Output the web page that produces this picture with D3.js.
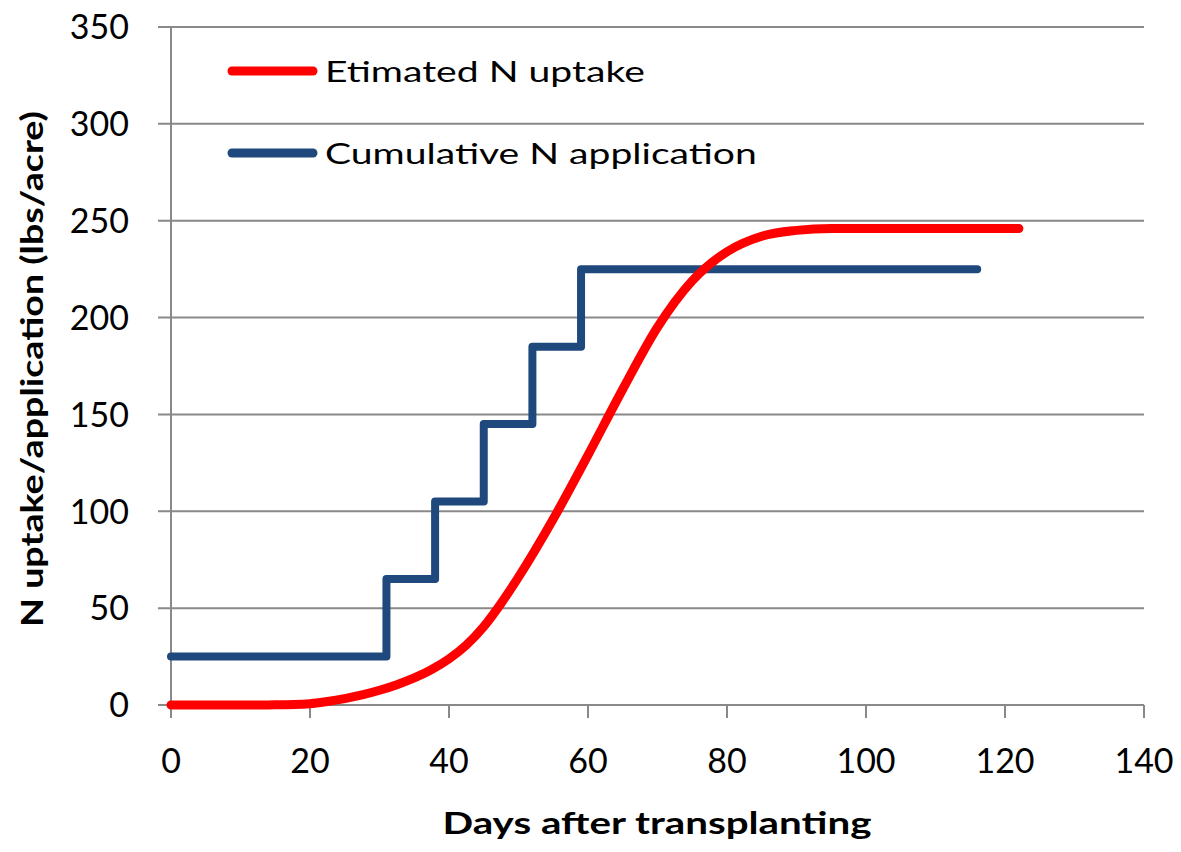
<!DOCTYPE html>
<html><head><meta charset="utf-8">
<script src="https://cdn.jsdelivr.net/npm/d3@7"></script>
<style>body{margin:0;background:#fff}text{font-family:Lato,"Open Sans",sans-serif}</style>
</head><body><svg id="c" width="1181" height="852"></svg>
<script>
const xTicks = [0,20,40,60,80,100,120,140];
const yTicks = [0,50,100,150,200,250,300,350];
const uptakeDays = [0,10,15,20,22.5,25,27.5,30,32.5,35,37.5,40,42.5,45,47.5,50,55,60,65,70,75,80,85,90,95,100,110,122];
const uptakeVals = [0,0,0.1,0.7,1.8,3.3,5.2,7.6,10.5,14,18.3,23.8,31,40.5,52.5,66,96,129,163,195,219,234,242,245,246,246,246,246];
const appDays = [0,31,38,45,52,59,116];
const appVals = [25,65,105,145,185,225,225];
const seriesNames = ["Etimated N uptake","Cumulative N application"];
const seriesColors = ["#ff0000","#1f497d"];
const xTitle = "Days after transplanting";
const yTitle = "N uptake/application (lbs/acre)";

const svg = d3.select("#c");
const x = d3.scaleLinear().domain([0,140]).range([171,1144]);
const y = d3.scaleLinear().domain([0,350]).range([705,27]);
const grid = "#898989";

function fit(sel, w, tx, ty, rot){
  const cur = sel.node().getComputedTextLength();
  const s = w/cur;
  sel.attr("x",0).attr("y",0)
     .attr("transform",`translate(${tx},${ty})${rot?` rotate(${rot})`:""} scale(${s},1)`);
}

svg.append("g").selectAll("line").data(yTicks).join("line")
  .attr("x1",158).attr("x2",1144).attr("y1",d=>y(d)).attr("y2",d=>y(d))
  .attr("stroke",grid).attr("stroke-width",2);
svg.append("line").attr("x1",171).attr("x2",171).attr("y1",y(350)).attr("y2",y(0)+1)
  .attr("stroke",grid).attr("stroke-width",2);
svg.append("g").selectAll("line").data(xTicks).join("line")
  .attr("x1",d=>x(d)).attr("x2",d=>x(d)).attr("y1",y(0)).attr("y2",y(0)+13)
  .attr("stroke",grid).attr("stroke-width",2);
svg.append("g").selectAll("text").data(yTicks).join("text")
  .attr("x",129).attr("y",d=>y(d)).attr("dy","0.36em").attr("text-anchor","end")
  .attr("font-size",34).attr("fill","#000").text(d=>d);
svg.append("g").selectAll("text").data(xTicks).join("text")
  .attr("x",d=>x(d)).attr("y",773).attr("text-anchor","middle")
  .attr("font-size",34).attr("fill","#000").text(d=>d);

const xt = svg.append("text").attr("text-anchor","middle")
  .attr("font-size",30.5).attr("font-weight","bold").text(xTitle);
fit(xt, 429, 657, 834);
const yt = svg.append("text").attr("text-anchor","middle")
  .attr("font-size",30.5).attr("font-weight","bold").text(yTitle);
fit(yt, 516, 43, 369, -90);

const uptake = uptakeDays.map((d,i)=>[d,uptakeVals[i]]);
const app = appDays.map((d,i)=>[d,appVals[i]]);
svg.append("path").datum(app).attr("fill","none").attr("stroke",seriesColors[1]).attr("stroke-width",8)
  .attr("stroke-linejoin","round").attr("stroke-linecap","round")
  .attr("d",d3.line().x(d=>x(d[0])).y(d=>y(d[1])).curve(d3.curveStepAfter));
svg.append("path").datum(uptake).attr("fill","none").attr("stroke",seriesColors[0]).attr("stroke-width",9)
  .attr("stroke-linejoin","round").attr("stroke-linecap","round")
  .attr("d",d3.line().x(d=>x(d[0])).y(d=>y(d[1])).curve(d3.curveMonotoneX));

const legW = [320, 432];
seriesNames.forEach((n,i)=>{
  const yy = 71 + i*82;
  svg.append("line").attr("x1",232).attr("x2",313).attr("y1",yy).attr("y2",yy)
    .attr("stroke",seriesColors[i]).attr("stroke-width",9).attr("stroke-linecap","round");
  const t = svg.append("text").attr("font-size",29).text(n);
  fit(t, legW[i], 325, yy + 11);
});
</script></body></html>
